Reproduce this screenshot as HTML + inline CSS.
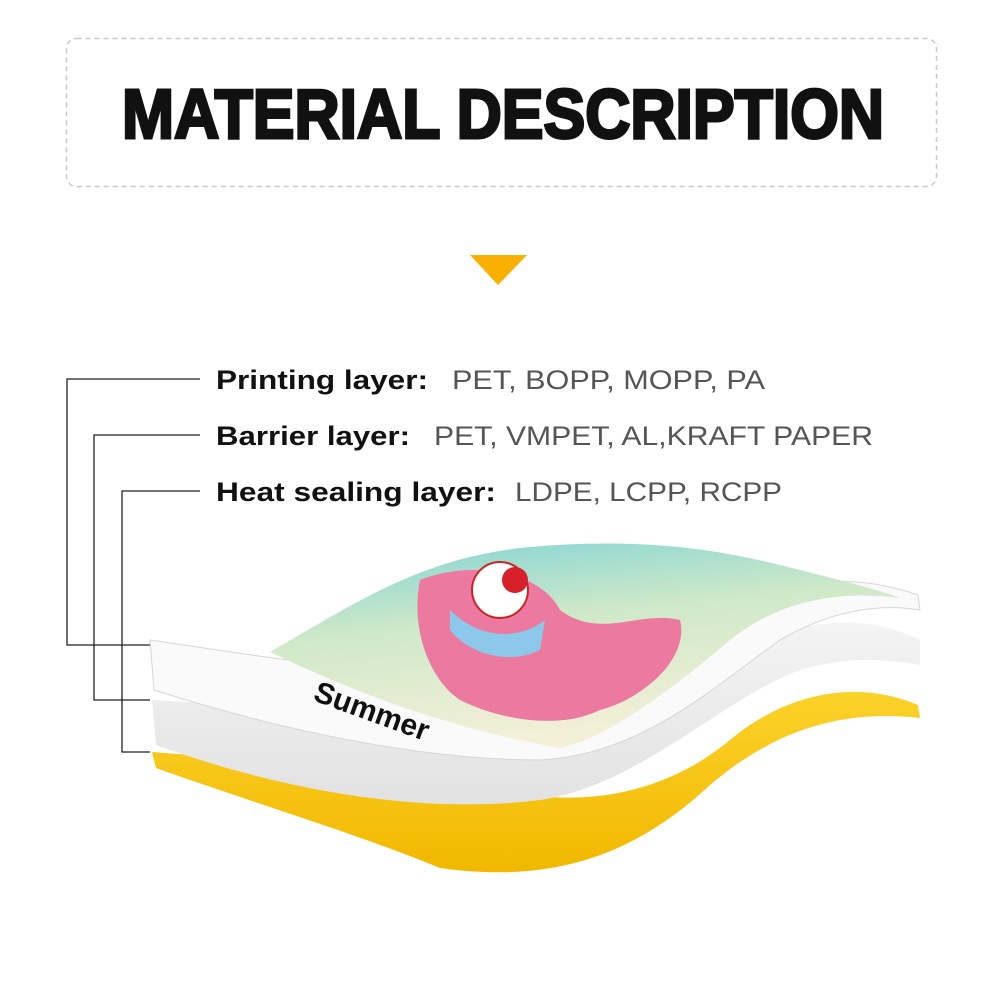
<!DOCTYPE html>
<html><head><meta charset="utf-8"><style>
html,body{margin:0;padding:0;background:#fff;}
svg{display:block}
</style></head><body>
<svg width="1000" height="1000" viewBox="0 0 1000 1000" xmlns="http://www.w3.org/2000/svg">
<defs>
<linearGradient id="img" x1="0" y1="0" x2="0.3" y2="1">
<stop offset="0" stop-color="#7fd3d6"/><stop offset="0.45" stop-color="#cfe9c8"/><stop offset="1" stop-color="#f4f0d8"/>
</linearGradient>
<linearGradient id="yel" x1="0" y1="0" x2="0" y2="1">
<stop offset="0" stop-color="#fbd22a"/><stop offset="1" stop-color="#f2b800"/>
</linearGradient>
<linearGradient id="wht" x1="0" y1="0" x2="0" y2="1">
<stop offset="0" stop-color="#f4f4f4"/><stop offset="1" stop-color="#e2e2e2"/>
</linearGradient>
</defs>
<rect x="66.5" y="38.5" width="870" height="148" rx="10" fill="none" stroke="#c8c8c8" stroke-width="1.5" stroke-dasharray="5,4"/>
<text x="122" y="138" font-family="Liberation Sans, sans-serif" font-weight="bold" font-size="70" textLength="762" lengthAdjust="spacingAndGlyphs" fill="#111" stroke="#111" stroke-width="3">MATERIAL DESCRIPTION</text>
<polygon points="470,255 527,255 498,285" fill="#f9b000"/>

<g fill="none" stroke="#222" stroke-width="1.3">
<polyline points="200,379 67,379 67,645 150,645"/>
<polyline points="200,435 94,435 94,700 150,700"/>
<polyline points="200,491 122,491 122,752 150,752"/>
</g>
<g font-family="Liberation Sans, sans-serif" font-size="27">
<text x="216" y="389" font-weight="bold" fill="#111" textLength="212" lengthAdjust="spacingAndGlyphs">Printing layer:</text>
<text x="452" y="389" fill="#555" textLength="313" lengthAdjust="spacingAndGlyphs">PET, BOPP, MOPP, PA</text>
<text x="216" y="445" font-weight="bold" fill="#111" textLength="194" lengthAdjust="spacingAndGlyphs">Barrier layer:</text>
<text x="434" y="445" fill="#555" textLength="439" lengthAdjust="spacingAndGlyphs">PET, VMPET, AL,KRAFT PAPER</text>
<text x="216" y="501" font-weight="bold" fill="#111" textLength="280" lengthAdjust="spacingAndGlyphs">Heat sealing layer:</text>
<text x="515" y="501" fill="#555" textLength="267" lengthAdjust="spacingAndGlyphs">LDPE, LCPP, RCPP</text>
</g>

<!-- yellow layer -->
<path d="M152,752 L156,768 C260,805 360,835 440,868 C560,885 640,850 710,785 C780,725 850,710 920,718 L918,705 C860,680 790,690 730,740 C670,790 590,810 500,790 C380,775 260,760 152,752 Z" fill="url(#yel)"/>
<!-- white lower layer -->
<path d="M152,700 L156,745 C280,790 420,815 540,800 C640,785 720,700 800,670 C850,655 890,660 920,665 L920,640 C860,610 790,620 730,660 C660,710 580,735 480,725 C360,715 250,705 152,700 Z" fill="url(#wht)"/>
<!-- white upper layer -->
<path d="M150,640 L154,690 C280,730 420,760 540,760 C640,755 710,690 780,640 C840,605 890,605 920,610 L918,595 C860,575 800,575 740,610 C660,660 560,690 460,680 C350,670 250,655 150,640 Z" fill="#fafafa" stroke="#d6d6d6" stroke-width="1"/>
<!-- printed image -->
<path d="M270,652 C360,600 420,560 520,548 C620,538 700,545 780,565 C840,580 880,590 900,598 C840,590 780,600 730,640 C660,700 600,740 560,748 C460,730 370,700 270,652 Z" fill="url(#img)"/>
<path d="M420,580 C470,560 540,570 560,610 C600,640 640,610 680,620 C690,660 640,700 600,710 C560,730 500,720 460,700 C430,680 410,630 420,580 Z" fill="#ec7aa0"/>
<circle cx="500" cy="590" r="28" fill="#fff" stroke="#c22" stroke-width="2"/>
<circle cx="515" cy="580" r="13" fill="#d8202a"/>
<path d="M450,610 C480,640 520,640 545,620 L540,650 C510,665 470,655 450,630 Z" fill="#8cc8ea"/>
<text x="312" y="700" font-family="Liberation Sans, sans-serif" font-weight="bold" font-size="30" fill="#111" transform="rotate(20 312 700)">Summer</text>
</svg>
</body></html>
